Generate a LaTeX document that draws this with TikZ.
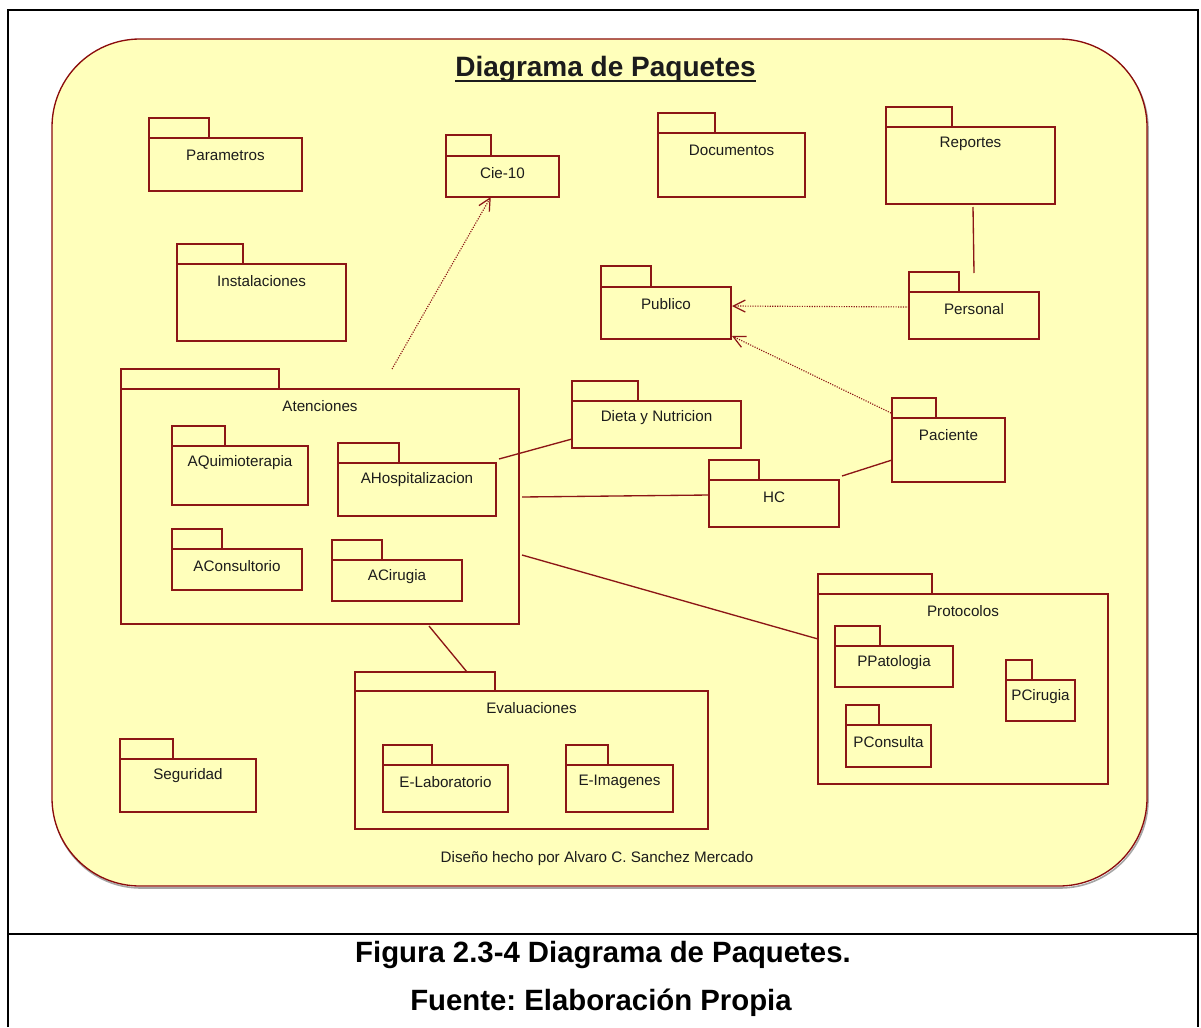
\documentclass[tikz,border=0pt]{standalone}
\usepackage{fontspec}
\setmainfont{Liberation Sans}
\usetikzlibrary{arrows.meta,calc,fit}
\frenchspacing

\definecolor{pkgred}{RGB}{140,22,22}
\definecolor{bubblefill}{RGB}{255,255,187}
\definecolor{bubbleedge}{RGB}{139,12,12}
\definecolor{inktext}{RGB}{28,28,28}

\tikzset{
  pkgline/.style={draw=pkgred, line width=1.1pt, fill=bubblefill},
  pkgbody/.style={pkgline, inner sep=0pt, outer sep=0pt},
  pkglabel/.style={text=inktext, inner sep=0pt, font=\fontsize{11.4}{13.5}\selectfont},
  assoc/.style={draw=pkgred, line width=1pt},
  dep/.style={draw=pkgred, line width=0.85pt, densely dotted,
              -{Straight Barb[length=9pt,width=9pt,line width=0.9pt]}},
  frameline/.style={draw=black, line width=2.2pt}
}

% #1 name, #2 left, #3 tab top, #4 tab right, #5 body top, #6 right, #7 bottom, #8 label
\newcommand\pkg[8]{%
  \node[pkgbody, fit={(#2,#5) (#6,#7)}] (#1) {};
  \draw[pkgline] (#2,#5) rectangle (#4,#3);
  \node[pkglabel] (#1-label) at ($(#1.north)+(0,17)$) {#8};
}

\begin{document}
\begin{tikzpicture}[x=0.75pt, y=-0.75pt]
  \useasboundingbox (0,0) rectangle (1201,1027);

  % page frame and caption divider
  \draw[frameline] (8,1027) -- (8,10) -- (1198,10) -- (1198,1027);
  \draw[frameline] (8,934) -- (1198,934);

  % rounded background panel with a soft lower shadow
  \draw[draw=black!35, line width=1.2pt, rounded corners=66pt]
    (53,41) rectangle (1148,888);
  \draw[draw=bubbleedge, fill=bubblefill, line width=1pt, rounded corners=66pt]
    (52,39) rectangle (1147,886);

  % title
  \node[anchor=base, inner sep=0pt, text=inktext,
        font=\bfseries\fontsize{21}{25}\selectfont] (title) at (605.5,77) {Diagrama de Paquetes};
  \draw[line width=1.5pt, inktext] ($(title.base west)+(0,4)$) -- ($(title.base east)+(0,4)$);

  % top-level packages
  \pkg{parametros}{149}{118}{209}{138}{302}{191}{Parametros}
  \pkg{cie}{446}{135}{491}{156}{559}{197}{Cie-10}
  \pkg{instalaciones}{177}{244}{243}{264}{346}{341}{Instalaciones}
  \pkg{documentos}{658}{113}{715}{133}{805}{197}{Documentos}
  \pkg{reportes}{886}{107}{952}{127}{1055}{204}{Reportes}
  \pkg{publico}{601}{266}{651}{287}{731}{339}{Publico}
  \pkg{personal}{909}{272}{959}{292}{1039}{339}{Personal}
  \pkg{dieta}{572}{381}{638}{401}{741}{448}{Dieta y Nutricion}
  \pkg{paciente}{892}{398}{936}{418}{1005}{482}{Paciente}
  \pkg{hc}{709}{460}{759}{480}{839}{527}{HC}
  \pkg{seguridad}{120}{739}{173}{759}{256}{812}{Seguridad}

  % Atenciones and its subpackages
  \pkg{atenciones}{121}{369}{279}{389}{519}{624}{Atenciones}
  \pkg{aquimio}{172}{426}{225}{446}{308}{505}{AQuimioterapia}
  \pkg{ahosp}{338}{443}{399}{463}{496}{516}{AHospitalizacion}
  \pkg{aconsul}{172}{529}{222}{549}{302}{590}{AConsultorio}
  \pkg{acirugia}{332}{540}{382}{560}{462}{601}{ACirugia}

  % Protocolos and its subpackages
  \pkg{protocolos}{818}{574}{932}{594}{1108}{784}{Protocolos}
  \pkg{ppatologia}{835}{626}{880}{646}{953}{687}{PPatologia}
  \pkg{pcirugia}{1006}{660}{1032}{680}{1075}{721}{PCirugia}
  \pkg{pconsulta}{846}{705}{879}{725}{931}{767}{PConsulta}

  % Evaluaciones and its subpackages
  \pkg{evaluaciones}{355}{672}{495}{691}{708}{829}{Evaluaciones}
  \pkg{elab}{383}{745}{432}{765}{508}{812}{E-Laboratorio}
  \pkg{eimg}{566}{745}{608}{765}{673}{812}{E-Imagenes}

  % dependencies
  \draw[dep] ($(atenciones.north)+(72,-20)$) -- (cie);
  \draw[dep] ($(personal.west)+(0,-8.5)$) -- ($(publico.east)+(1,-7)$);
  \draw[dep] ($(paciente.north west)+(-1,-5)$) -- ($(publico.south east)+(1,-3)$);

  % associations
  \draw[assoc] ($(reportes.south)+(2.5,3)$) -- ($(personal.north)+(0,-19)$);
  \draw[assoc] ($(ahosp.north east)+(3,-4)$) -- ($(dieta.south west)+(0,-9)$);
  \draw[assoc] ($(atenciones.east)+(3,-9.5)$) -- ($(hc.west)+(0,-8.5)$);
  \draw[assoc] ($(hc.north east)+(3,-4)$) -- ($(paciente.west)+(0,10)$);
  \draw[assoc] ($(atenciones.east)+(3,48.5)$) -- ($(protocolos.west)+(0,-50)$);
  \draw[assoc] ($(atenciones.south east)+(-90,2)$) -- ($(evaluaciones.north)+(-64.5,-19)$);

  % author credit
  \node[pkglabel] (credit) at (597,859) {Diseño hecho por Alvaro C. Sanchez Mercado};

  % caption
  \node[anchor=base, inner sep=0pt, font=\bfseries\fontsize{22}{26}\selectfont]
    (caption1) at (603,962) {Figura 2.3-4 Diagrama de Paquetes.};
  \node[anchor=base, inner sep=0pt, font=\bfseries\fontsize{22}{26}\selectfont]
    (caption2) at (601,1010) {Fuente: Elaboración Propia};
\end{tikzpicture}
\end{document}
